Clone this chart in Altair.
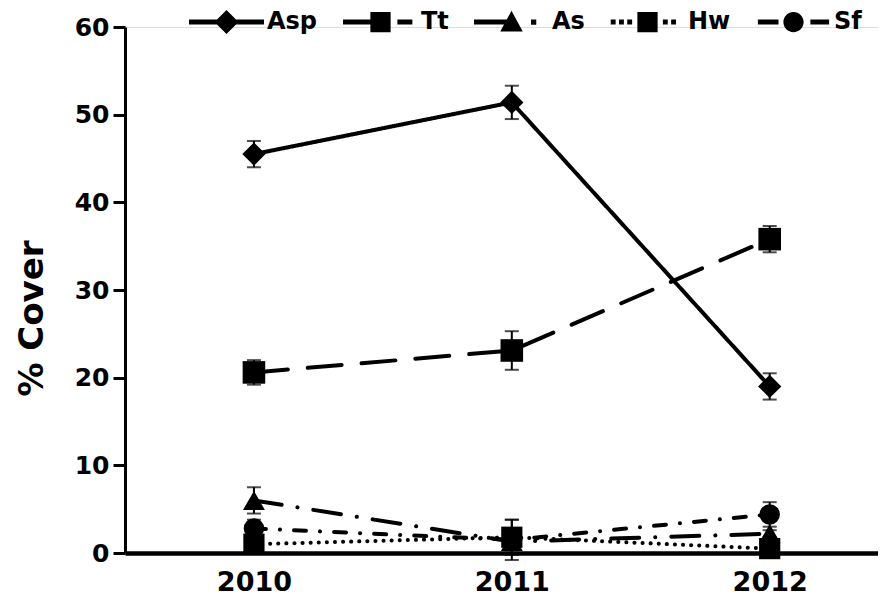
import altair as alt
import pandas as pd

years = [2010, 2011, 2012]
series = ["Asp", "Tt", "As", "Hw", "Sf"]
asp = [45.5, 51.4, 19.0]
asp_se = [1.5, 1.9, 1.5]
tt = [20.6, 23.1, 35.8]
tt_se = [1.4, 2.2, 1.5]
as_ = [6.0, 1.3, 2.2]
as_se = [1.5, 1.0, 0.4]
hw = [1.0, 1.8, 0.5]
hw_se = [0.4, 2.0, 0.3]
sf = [2.8, 1.5, 4.4]
sf_se = [1.0, 2.3, 1.4]

values = {"Asp": asp, "Tt": tt, "As": as_, "Hw": hw, "Sf": sf}
errors = {"Asp": asp_se, "Tt": tt_se, "As": as_se, "Hw": hw_se, "Sf": sf_se}

rows = []
for s in series:
    for i, yr in enumerate(years):
        rows.append({"series": s, "year": yr, "cover": values[s][i], "se": errors[s][i]})
df = pd.DataFrame(rows)

FONT = "DejaVu Sans"

x = alt.X("year:Q", scale=alt.Scale(domain=[2009.5, 2012.42], nice=False, zero=False),
          axis=alt.Axis(values=years, format="d", title=None, ticks=False, grid=False,
                        labelFont=FONT, labelFontSize=27, labelFontWeight="bold",
                        labelColor="black", labelPadding=16,
                        domainColor="black", domainWidth=4.5))
y = alt.Y("cover:Q", scale=alt.Scale(domain=[0, 60], nice=False),
          axis=alt.Axis(values=[0, 10, 20, 30, 40, 50, 60], title="% Cover", grid=False,
                        labelFont=FONT, labelFontSize=25, labelFontWeight="bold",
                        labelColor="black", labelPadding=4,
                        tickSize=12, tickWidth=3, tickColor="black",
                        domainColor="black", domainWidth=3,
                        titleFont=FONT, titleFontSize=34, titleFontWeight="bold",
                        titleColor="black", titleAngle=-90, titleX=-93, titleY=291,
                        titleAlign="center", titleBaseline="middle"))

dash_range = [[1, 0], [34, 20], [28, 16, 0.1, 16], [0.1, 8], [12, 14, 0.1, 14]]

base = alt.Chart(df)

lines = base.mark_line(color="black", strokeWidth=4, strokeCap="round").encode(
    x=x, y=y,
    strokeDash=alt.StrokeDash("series:N", scale=alt.Scale(domain=series, range=dash_range), legend=None),
    detail="series:N",
)

err = base.transform_calculate(lo="datum.cover - datum.se", hi="datum.cover + datum.se")
err_rule = err.mark_rule(color="black", strokeWidth=2).encode(x=x, y="lo:Q", y2="hi:Q")
cap_hi = err.mark_tick(color="black", thickness=2, size=14, orient="horizontal").encode(x=x, y="hi:Q")
cap_lo = err.mark_tick(color="black", thickness=2, size=14, orient="horizontal").encode(x=x, y="lo:Q")

points = base.mark_point(filled=True, color="black", opacity=1).encode(
    x=x, y=y,
    shape=alt.Shape("series:N", scale=alt.Scale(domain=series,
                    range=["diamond", "square", "triangle-up", "square", "circle"]), legend=None),
    size=alt.Size("series:N", scale=alt.Scale(domain=series, range=[540, 420, 420, 380, 420]), legend=None),
)

legend_paths = [
    "M-2.5,-0.1625H2.5V0.1625H-2.5Z M0,-0.8L0.8,0L0,0.8L-0.8,0Z",
    "M-2.5,-0.1625H-0.25V0.1625H-2.5Z M-0.675,-0.675H0.675V0.675H-0.675Z M1.125,-0.1625H2.125V0.1625H1.125Z",
    "M-2.5,-0.1625H-0.25V0.1625H-2.5Z M0,-0.75L0.75,0.625H-0.75Z M1.3,-0.175H1.65V0.175H1.3Z",
    "M-2.45,-0.1625H-2.125V0.1625H-2.45Z M-1.9,-0.1625H-1.575V0.1625H-1.9Z M-1.35,-0.1625H-1.025V0.1625H-1.35Z "
    "M-0.675,-0.675H0.675V0.675H-0.675Z M1.025,-0.1625H1.35V0.1625H1.025Z M1.575,-0.1625H1.9V0.1625H1.575Z",
    "M-2.375,-0.1625H-1V0.1625H-2.375Z M-0.675,0A0.675,0.675,0,1,1,0.675,0A0.675,0.675,0,1,1,-0.675,0Z "
    "M1.125,-0.1625H2.375V0.1625H1.125Z",
]

legend_layer = base.transform_filter("datum.series == 'none'").mark_point(filled=True, color="black").encode(
    x=x, y=y,
    shape=alt.Shape("series:N", scale=alt.Scale(domain=series, range=legend_paths),
                    legend=alt.Legend(title=None, orient="none", legendX=64, legendY=-20,
                                      direction="horizontal", columns=5,
                                      symbolSize=900, symbolOffset=22.5,
                                      symbolFillColor="black",
                                      symbolStrokeWidth=0, symbolOpacity=1,
                                      labelFont=FONT, labelFontSize=24, labelFontWeight="bold",
                                      labelColor="black", labelOffset=25.5, columnPadding=25,
                                      labelLimit=200)),
)

chart = alt.layer(lines, err_rule, cap_hi, cap_lo, points, legend_layer).resolve_scale(
    shape="independent"
).properties(
    width=753, height=526,
    autosize=alt.AutoSizeParams(type="none"),
    padding={"left": 117, "top": 19, "right": 0, "bottom": 50},
).configure_view(stroke=None).configure(background="white")

chart.save("out.html", embed_options={"renderer": "svg", "actions": False})
